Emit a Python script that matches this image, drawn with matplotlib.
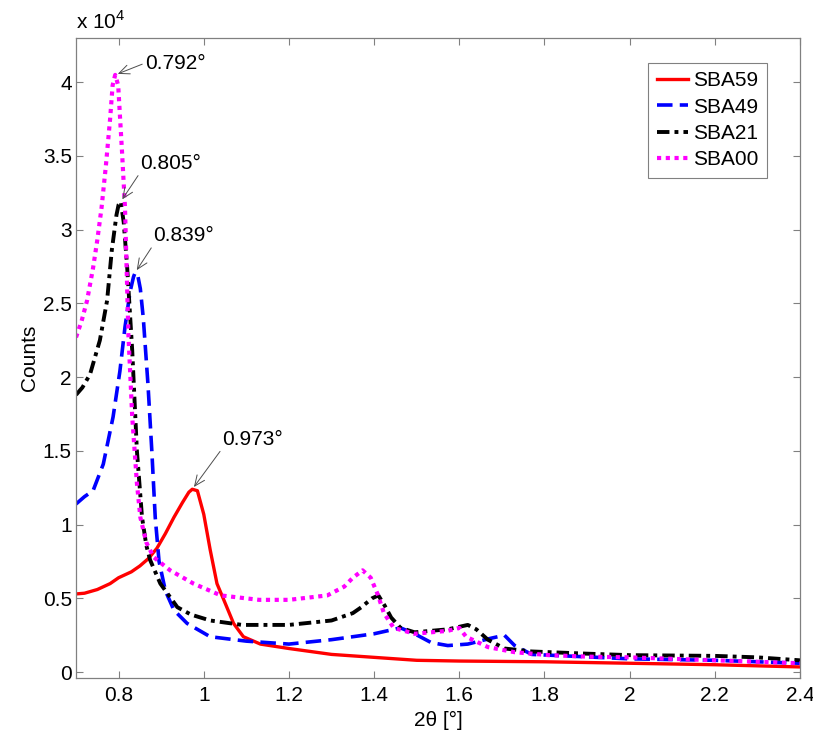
import numpy as np
import matplotlib
matplotlib.use("Agg")
import matplotlib.pyplot as plt
from matplotlib.ticker import FuncFormatter, MultipleLocator

plt.rcParams['font.family'] = ['Liberation Sans', 'DejaVu Sans']
plt.rcParams['mathtext.fontset'] = 'custom'
plt.rcParams['mathtext.rm'] = 'Liberation Sans'

# low-angle XRD patterns, 2theta in degrees, intensity in counts
x_sba59 = [0.70, 0.72, 0.75, 0.78, 0.80, 0.83, 0.85, 0.87, 0.89, 0.91, 0.93, 0.95, 0.965,
           0.973, 0.985, 1.00, 1.015, 1.031, 1.047, 1.07, 1.093, 1.133, 1.20, 1.30, 1.40,
           1.50, 1.60, 1.80, 2.00, 2.20, 2.40]
y_sba59 = [5300, 5350, 5600, 6000, 6400, 6800, 7200, 7700, 8400, 9400, 10500, 11500, 12200,
           12400, 12300, 10700, 8300, 6000, 4900, 3300, 2400, 1900, 1600, 1200, 1000,
           800, 750, 700, 600, 500, 350]

x_sba49 = [0.70, 0.72, 0.74, 0.764, 0.787, 0.803, 0.815, 0.827, 0.835, 0.839, 0.845, 0.851,
           0.858, 0.869, 0.878, 0.886, 0.895, 0.91, 0.93, 0.961, 1.015, 1.10, 1.20, 1.30,
           1.40, 1.462, 1.495, 1.534, 1.573, 1.62, 1.675, 1.706, 1.73, 1.77, 1.81, 2.00,
           2.20, 2.40]
y_sba49 = [11400, 11900, 12300, 14100, 17300, 20400, 23400, 25800, 26800, 27100, 26900, 26000,
           24000, 19500, 15000, 10500, 7500, 5500, 4200, 3300, 2400, 2100, 1900, 2200,
           2600, 3000, 2600, 2000, 1800, 1900, 2300, 2500, 1800, 1200, 1150, 900,
           800, 600]

x_sba21 = [0.70, 0.715, 0.733, 0.756, 0.773, 0.784, 0.795, 0.80, 0.805, 0.812, 0.82,
           0.832, 0.843, 0.855, 0.865, 0.874, 0.898, 0.938, 0.97, 1.015, 1.09, 1.20,
           1.30, 1.35, 1.37, 1.395, 1.41, 1.425, 1.44, 1.462, 1.495, 1.573, 1.62, 1.64,
           1.667, 1.706, 1.77, 1.90, 2.00, 2.20, 2.30, 2.40]
y_sba21 = [18800, 19300, 20200, 22500, 25200, 28600, 31000, 31700, 31900, 30500, 27500,
           21800, 15000, 10500, 8600, 7600, 6000, 4400, 3900, 3500, 3200, 3200,
           3500, 4000, 4400, 5000, 5200, 4500, 3700, 3000, 2700, 2900, 3200, 2900,
           2200, 1600, 1400, 1250, 1150, 1100, 1000, 800]

x_sba00 = [0.70, 0.713, 0.726, 0.74, 0.75, 0.76, 0.77, 0.78, 0.786, 0.792, 0.799, 0.808,
           0.815, 0.823, 0.832, 0.843, 0.851, 0.865, 0.882, 0.921, 0.976, 1.04,
           1.13, 1.20, 1.29, 1.33, 1.35, 1.373, 1.392, 1.408, 1.423, 1.446, 1.495,
           1.573, 1.60, 1.616, 1.667, 1.73, 1.81, 1.90, 2.00, 2.10, 2.20, 2.30, 2.40]
y_sba00 = [22700, 23800, 25200, 27400, 29300, 31500, 34300, 37500, 39800, 40500, 39800, 35300,
           31500, 22900, 17300, 12800, 10500, 8800, 7800, 6900, 6000, 5200,
           4900, 4900, 5200, 5800, 6400, 6900, 6400, 5300, 4000, 3000, 2600,
           2800, 3000, 2400, 1700, 1350, 1150, 1050, 1000, 900, 800, 700, 600]

fig = plt.figure(figsize=(8.13, 7.31), dpi=100)
ax = fig.add_axes([0.0935, 0.0725, 0.8905, 0.8755])

ax.plot(x_sba59, y_sba59, color='#ff0000', lw=2.4, label='SBA59')
ax.plot(x_sba49, y_sba49, color='#0000ff', lw=2.6, dashes=(4.3, 2.0), label='SBA49')
ax.plot(x_sba21, y_sba21, color='black', lw=2.8, dashes=(3.2, 1.3, 1.0, 1.3), label='SBA21')
ax.plot(x_sba00, y_sba00, color='#ff00ff', lw=3.0, dashes=(1.0, 1.1), label='SBA00')

# peak positions marked with arrows
notes = [(x_sba00, y_sba00, (0.862, 41300), (0, 0.5)),
         (x_sba21, y_sba21, (0.850, 34500), (0, 0)),
         (x_sba49, y_sba49, (0.881, 29600), (0, 0)),
         (x_sba59, y_sba59, (1.043, 15800), (0, 0))]
for xs, ys, txt_pos, rel in notes:
    i = int(np.argmax(ys))
    ax.annotate(f'{xs[i]:.3f}°', xy=(xs[i], ys[i]), xytext=txt_pos,
                fontsize=15, ha='left', va='center',
                arrowprops=dict(arrowstyle='->,head_length=0.5,head_width=0.22',
                                color='0.3', lw=0.7, relpos=rel,
                                shrinkA=0, shrinkB=2))

ax.set_xlim(0.7, 2.4)
ax.set_ylim(-400, 43000)
ax.xaxis.set_major_locator(MultipleLocator(0.2))
ax.yaxis.set_major_locator(MultipleLocator(5000))
ax.xaxis.set_major_formatter(FuncFormatter(lambda v, p: f'{v:g}'))
ax.yaxis.set_major_formatter(FuncFormatter(lambda v, p: f'{v / 1e4:g}'))
ax.tick_params(direction='in', length=5, width=0.8, color='0.5', labelsize=15,
               top=True, right=True)
ax.tick_params(axis='x', pad=6)
ax.tick_params(axis='y', pad=3)
for sp in ax.spines.values():
    sp.set_color('0.5')
    sp.set_linewidth(0.9)

ax.text(0.0, 1.008, r'x 10$^{4}$', transform=ax.transAxes, fontsize=15,
        ha='left', va='bottom')
ax.set_xlabel('2θ [°]', fontsize=15, labelpad=4)
ax.set_ylabel('Counts', fontsize=15, labelpad=3)

leg = ax.legend(loc='upper right', bbox_to_anchor=(0.954, 0.961), borderaxespad=0,
                fontsize=15, handlelength=1.5, handletextpad=0.25,
                labelspacing=0.35, fancybox=False, framealpha=1, borderpad=0.4)
leg.get_frame().set_edgecolor('0.5')
leg.get_frame().set_linewidth(0.8)

fig.savefig('out.png', dpi=100)
